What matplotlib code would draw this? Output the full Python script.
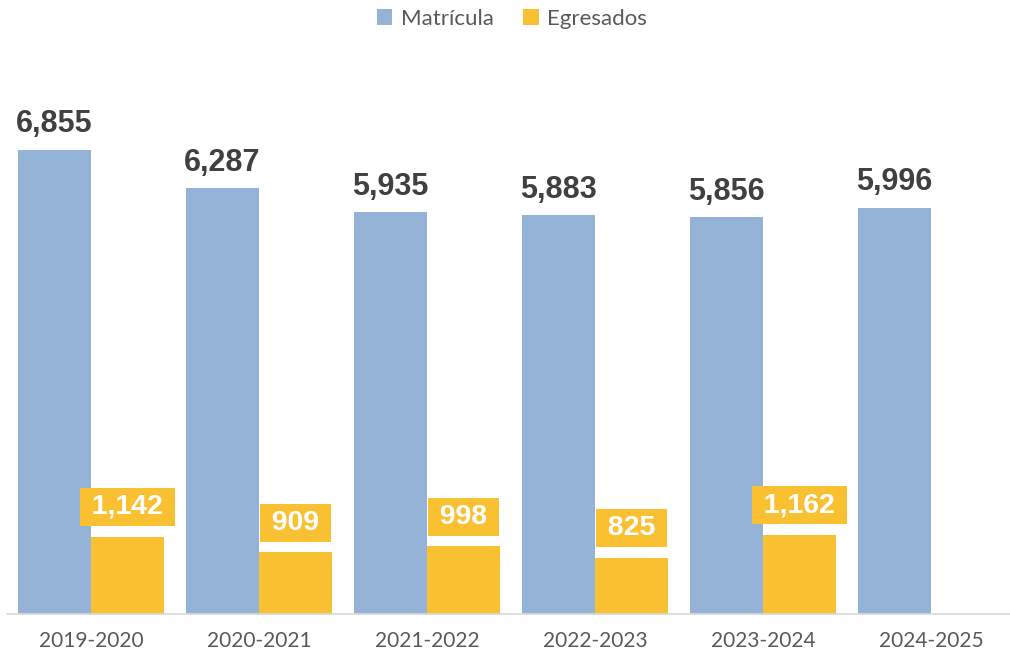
import numpy as np
import matplotlib
matplotlib.use("Agg")
import matplotlib.pyplot as plt

# ciclos escolares
ciclos = ["2019-2020", "2020-2021", "2021-2022", "2022-2023", "2023-2024", "2024-2025"]
matricula = [6855, 6287, 5935, 5883, 5856, 5996]
egresados = [1142, 909, 998, 825, 1162]

BLUE = "#95B3D7"
YELLOW = "#F9C032"
GREY_TXT = "#595959"
DARK_TXT = "#404040"
THIN = "\u2009"


def main():
    fig = plt.figure(figsize=(10.10, 6.57), dpi=100)
    ax = fig.add_axes([7 / 1010, 43 / 657, 1003 / 1010, 542 / 657])

    x = np.arange(len(ciclos))
    w = 73 / 168
    ax.set_xlim(-0.5, -0.5 + 1003 / 168)
    ax.set_ylim(0, 8000)

    b1 = ax.bar(x - w / 2, matricula, width=w, color=BLUE, label="Matrícula")
    b2 = ax.bar(x[:len(egresados)] + w / 2, egresados, width=w, color=YELLOW, label="Egresados")

    for rect, v in zip(b1, matricula):
        ax.annotate(f"{v:,}", (rect.get_x() + rect.get_width() / 2, rect.get_height()),
                    xytext=(0, 12.5), textcoords="offset points", ha="center", va="baseline",
                    fontsize=22, fontweight="bold", color=DARK_TXT, family="Liberation Sans")

    for rect, v in zip(b2, egresados):
        ax.annotate(THIN + f"{v:,}" + THIN, (rect.get_x() + rect.get_width() / 2, rect.get_height()),
                    xytext=(0, 21.5), textcoords="offset points", ha="center", va="center",
                    fontsize=20.5, fontweight="bold", color="white",
                    family=["Liberation Sans", "DejaVu Sans"],
                    bbox=dict(boxstyle="square,pad=0.21", fc=YELLOW, ec="none"))

    ax.set_xticks(x)
    ax.set_xticklabels(ciclos, fontsize=15, color=GREY_TXT, family="Lato")
    ax.tick_params(axis="x", length=0, pad=12)
    ax.set_yticks([])
    for s in ["top", "right", "left"]:
        ax.spines[s].set_visible(False)
    ax.spines["bottom"].set_color("#D9D9D9")
    ax.spines["bottom"].set_linewidth(1.2)

    fig.legend(loc="center", bbox_to_anchor=(512 / 1010, 1 - 19 / 657), ncol=2, frameon=False,
               prop={"family": "Lato", "size": 16}, labelcolor=GREY_TXT,
               handlelength=0.7, handleheight=0.7, handletextpad=0.4, columnspacing=1.3)

    fig.savefig("out.png", dpi=100)


if __name__ == "__main__":
    main()
